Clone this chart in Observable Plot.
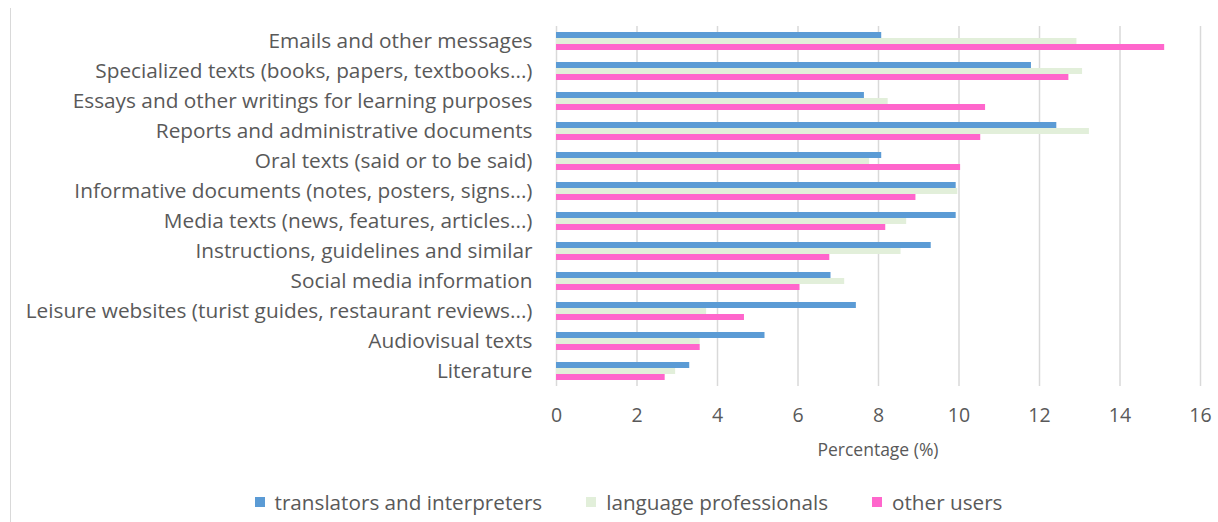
<!DOCTYPE html>
<html>
<head>
<meta charset="utf-8">
<script src="https://cdn.jsdelivr.net/npm/d3@7"></script>
<script src="https://cdn.jsdelivr.net/npm/@observablehq/plot@0.6"></script>
<style>
  html, body { margin: 0; padding: 0; background: #fff; }
  #wrap { position: relative; width: 1218px; height: 522px; overflow: hidden; font-family: "Open Sans", Lato, sans-serif; color: #595959; }
  #border { position: absolute; left: 10px; top: 8px; bottom: 0; width: 0; border-left: 1px solid #d9d9d9; }
  #xlabel { position: absolute; top: 437px; left: 778px; width: 200px; text-align: center; font-size: 17.5px; }
  #legend { position: absolute; top: 488px; left: 0; width: 1218px; display: flex; justify-content: center; padding-left: 39px; box-sizing: border-box; font-size: 20.7px; }
  .item { display: flex; align-items: center; margin: 0 22px; }
  .sw { width: 10px; height: 10px; margin-right: 10px; }
</style>
</head>
<body>
<div id="wrap">
  <div id="border"></div>
  <div id="chart"></div>
  <div id="xlabel">Percentage (%)</div>
  <div id="legend"></div>
</div>
<script>
const categories = [
  "Emails and other messages",
  "Specialized texts (books, papers, textbooks...)",
  "Essays and other writings for learning purposes",
  "Reports and administrative documents",
  "Oral texts (said or to be said)",
  "Informative documents (notes, posters, signs...)",
  "Media texts (news, features, articles...)",
  "Instructions, guidelines and similar",
  "Social media information",
  "Leisure websites (turist guides, restaurant reviews...)",
  "Audiovisual texts",
  "Literature"
];
const series = ["translators and interpreters", "language professionals", "other users"];
const translators = [8.08, 11.80, 7.65, 12.43, 8.08, 9.93, 9.93, 9.31, 6.82, 7.45, 5.18, 3.31];
const languageProfessionals = [12.93, 13.07, 8.24, 13.24, 7.78, 9.97, 8.70, 8.56, 7.16, 3.73, 3.57, 2.96];
const otherUsers = [15.11, 12.73, 10.66, 10.54, 10.04, 8.93, 8.18, 6.79, 6.05, 4.67, 3.57, 2.70];
const colors = ["#5B9BD5", "#E2EFDA", "#FF66CC"];
const xTicks = [0, 2, 4, 6, 8, 10, 12, 14, 16];

const valuesBySeries = [translators, languageProfessionals, otherUsers];
const data = [];
categories.forEach((c, i) => {
  series.forEach((s, j) => data.push({category: c, series: s, value: valuesBySeries[j][i]}));
});

const chart = Plot.plot({
  width: 1218,
  height: 465,
  marginLeft: 556,
  marginRight: 18,
  marginTop: 26,
  marginBottom: 79,
  style: {fontFamily: "'Open Sans', Lato, sans-serif", color: "#595959", background: "transparent", overflow: "visible"},
  x: {domain: [0, 16]},
  fy: {domain: categories, padding: 0},
  y: {domain: series, paddingInner: 0, paddingOuter: 1, axis: null},
  color: {domain: series, range: colors},
  marks: [
    Plot.gridX(xTicks, {stroke: "#d9d9d9", strokeOpacity: 1, strokeWidth: 1.5}),
    Plot.barX(data, {fy: "category", y: "series", x: "value", fill: "series"}),
    Plot.axisX(xTicks, {tickSize: 0, tickPadding: 22, fontSize: 19.5, label: null, tickFormat: d => String(d)}),
    Plot.axisFy({anchor: "left", tickSize: 0, tickPadding: 24, fontSize: 20.8, label: null})
  ]
});
document.getElementById("chart").appendChild(chart);

const legend = document.getElementById("legend");
series.forEach((s, j) => {
  const it = document.createElement("div");
  it.className = "item";
  const sw = document.createElement("div");
  sw.className = "sw";
  sw.style.background = colors[j];
  const tx = document.createElement("span");
  tx.textContent = s;
  it.appendChild(sw);
  it.appendChild(tx);
  legend.appendChild(it);
});
</script>
</body>
</html>
